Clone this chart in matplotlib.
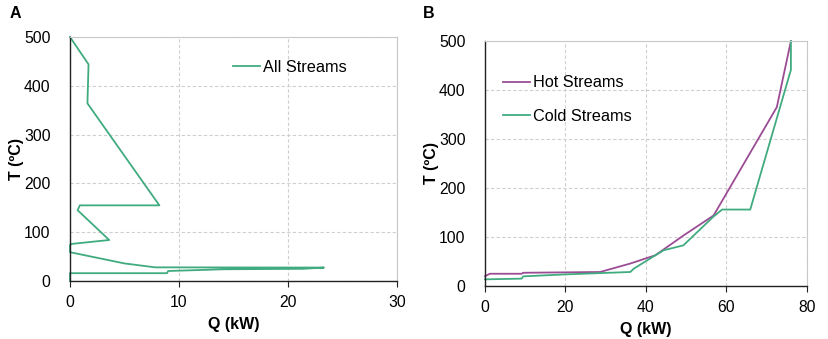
import matplotlib
matplotlib.use("Agg")
import matplotlib.pyplot as plt

plt.rcParams["font.family"] = ["Liberation Sans", "DejaVu Sans"]
plt.rcParams["font.size"] = 10.5

GREEN  = "#41ab80"
PURPLE = "#9b4c95"
GRID   = "#cfcfcf"

# ── data ───────────────────────────────────────────────────────────────
# (A) grand composite curve
gcc_q = [0.0, 1.7, 1.6, 8.2, 0.9, 0.7, 3.6, 0.15, 0.0, 0.0, 5.0, 7.8, 23.3, 21.4, 14.0, 9.0, 8.9, 0.0, 0.0]
gcc_t = [500, 444, 364, 155, 155, 145, 84, 76, 74, 59, 36, 28, 27.5, 25, 24, 20.5, 16, 16, 0]

# (B) composite curves
hot_q = [0.0, 1.2, 9.1, 9.5, 28.6, 36.0, 40.2, 42.3, 49.3, 56.8, 72.5, 76.0]
hot_t = [20, 25, 25, 27, 28.6, 45.6, 57, 62.6, 103, 144, 365, 500]

cold_q = [0.0, 9.1, 9.5, 20.3, 36.1, 36.9, 42.3, 44.4, 49.3, 56.8, 58.9, 65.9, 76.0, 76.0]
cold_t = [13.6, 15, 19.7, 23.8, 28.6, 35, 62.6, 73, 83, 142, 156, 156, 441, 500]

LEG_FS = 11.7


def style_axes(ax, xmax, xstep):
    ax.set_xlim(0, xmax)
    ax.set_ylim(0, 500)
    ax.set_xticks(range(0, xmax + 1, xstep))
    ax.set_yticks(range(0, 501, 100))
    ax.grid(True, color=GRID, linestyle=(0, (3, 2)), linewidth=0.8)
    ax.set_axisbelow(True)
    for s in ("top", "right"):
        ax.spines[s].set_color("#c8c8c8")
    for s in ("left", "bottom"):
        ax.spines[s].set_color("#222222")
        ax.spines[s].set_linewidth(1.0)
    ax.tick_params(axis="y", length=0, pad=14, labelsize=11.3)
    ax.tick_params(axis="x", length=4, direction="out", pad=6, labelsize=11.3, color="#222222")
    ax.set_xlabel("Q (kW)", fontweight="bold", fontsize=11.5, labelpad=5)
    ax.set_ylabel("T (ºC)", fontweight="bold", fontsize=11.5, labelpad=0)


fig = plt.figure(figsize=(8.29, 3.39), dpi=100)
W, H = 829, 339

# ── panel A ────────────────────────────────────────────────────────────
axA = fig.add_axes([70 / W, 1 - 281 / H, 327 / W, 244 / H])
axA.plot(gcc_q, gcc_t, color=GREEN, linewidth=1.3, label="All Streams", clip_on=False)
style_axes(axA, 30, 10)
axA.legend(loc="upper left", bbox_to_anchor=(0.498, 0.905), frameon=False,
           borderpad=0, borderaxespad=0,
           handlelength=1.67, handletextpad=0.2, fontsize=LEG_FS)
fig.text(10 / W, 1 - 13 / H, "A", fontweight="bold", fontsize=11.5, va="center")

# ── panel B ────────────────────────────────────────────────────────────
axB = fig.add_axes([485 / W, 1 - 286 / H, 322 / W, 245 / H])
axB.plot(hot_q, hot_t, color=PURPLE, linewidth=1.3, label="Hot Streams", clip_on=False)
axB.plot(cold_q, cold_t, color=GREEN, linewidth=1.3, label="Cold Streams", clip_on=False)
style_axes(axB, 80, 20)
axB.legend(loc="upper left", bbox_to_anchor=(0.055, 0.86), frameon=False,
           borderpad=0, borderaxespad=0,
           handlelength=1.67, handletextpad=0.2, labelspacing=1.15, fontsize=LEG_FS)
fig.text(423 / W, 1 - 13 / H, "B", fontweight="bold", fontsize=11.5, va="center")

plt.savefig("out.png", dpi=100)
plt.close()
